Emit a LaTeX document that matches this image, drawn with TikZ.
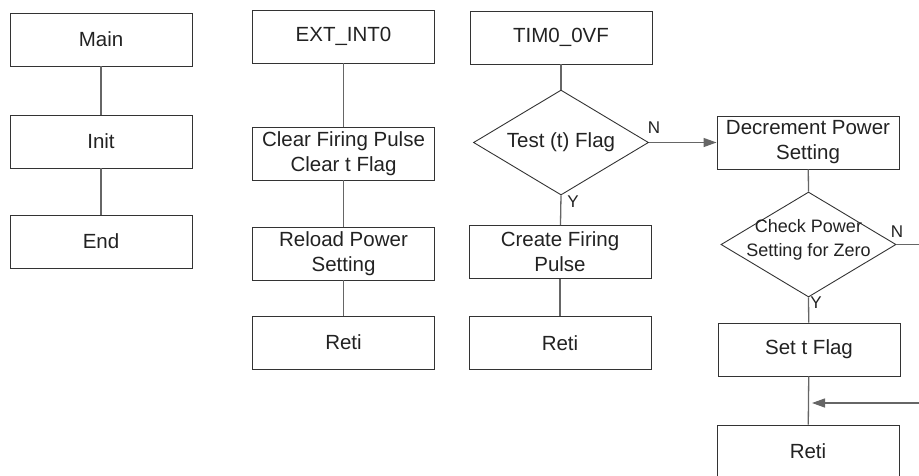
\documentclass[tikz,border=0pt]{standalone}
\usepackage{fontspec}
\setmainfont{Liberation Sans}
\usetikzlibrary{shapes.geometric,arrows.meta}
\definecolor{boxline}{HTML}{333333}
\definecolor{conn}{HTML}{666666}
\definecolor{txt}{HTML}{222222}
\tikzset{
  box/.style={draw=boxline, line width=0.9pt, minimum width=182pt, minimum height=53pt,
    inner sep=0pt, align=center, text=txt, font=\fontsize{20.5}{25}\selectfont},
  dec/.style={draw=boxline, line width=0.9pt, shape=diamond, minimum width=175pt,
    minimum height=105pt, inner sep=0pt},
  dectext/.style={align=center, text=txt, inner sep=0pt},
  conn/.style={draw=conn, line width=1.3pt},
  yn/.style={text=txt, inner sep=0pt, font=\fontsize{17}{20}\selectfont},
  arr/.style={conn, -{Triangle[length=13pt,width=9pt]}}
}
\begin{document}
\begin{tikzpicture}[x=1pt,y=-1pt]
\useasboundingbox (0,0) rectangle (919,475);
% column 1
\node[box] (main) at (101,39.5) {Main};
\node[box] (init) at (101,141.5) {Init};
\node[box] (end) at (101,241.5) {End};
\draw[conn] (main) -- (init);
\draw[conn] (init) -- (end);
% column 2
\node[box] (ext) at (343.5,36.5) {EXT\_INT0};
\node[box] (clr) at (343.5,153.5) {Clear Firing Pulse\\Clear t Flag};
\node[box] (rld) at (343.5,253.5) {Reload Power\\Setting};
\node[box] (reti1) at (343.5,342.5) {Reti};
\draw[conn] (ext) -- (clr);
\draw[conn] (clr) -- (rld);
\draw[conn] (rld) -- (reti1);
% column 3
\node[box] (tim) at (561,37.5) {TIM0\_0VF};
\node[dec] (d1) at (561,142.5) {};
\node[dectext, font=\fontsize{20.5}{25}\selectfont] (d1t) at (d1.center) {Test (t) Flag};
\node[box] (cfp) at (560,252) {Create Firing\\Pulse};
\node[box] (reti2) at (560,343) {Reti};
\draw[conn] (tim) -- (d1.north);
\draw[conn] (d1.south) -- (cfp);
\draw[conn] (cfp) -- (reti2);
\node[yn] (n1) at (654,128) {N};
\node[yn] (y1) at (573,202) {Y};
% column 4
\node[box] (dec) at (808,142.5) {Decrement Power\\Setting};
\node[dec] (d2) at (808.5,244.5) {};
\node[dectext, font=\fontsize{18}{24}\selectfont] (d2t) at (808.5,240) {Check Power\\Setting for Zero};
\node[box] (set) at (809,349.5) {Set t Flag};
\node[box] (reti3) at (808,451.5) {Reti};
\draw[arr] (d1.east) -- (dec.west);
\draw[conn] (dec) -- (d2.north);
\draw[conn] (d2.south) -- (set);
\draw[conn] (set) -- (reti3);
\coordinate (d2out) at (919,244.5);
\draw[conn] (d2.east) -- (d2out);
\node[yn] (n2) at (897,232) {N};
\node[yn] (y2) at (816,303) {Y};
\coordinate (loopin) at (919,403);
\coordinate (looptip) at (812,403);
\draw[arr] (loopin) -- (looptip);
\end{tikzpicture}
\end{document}
